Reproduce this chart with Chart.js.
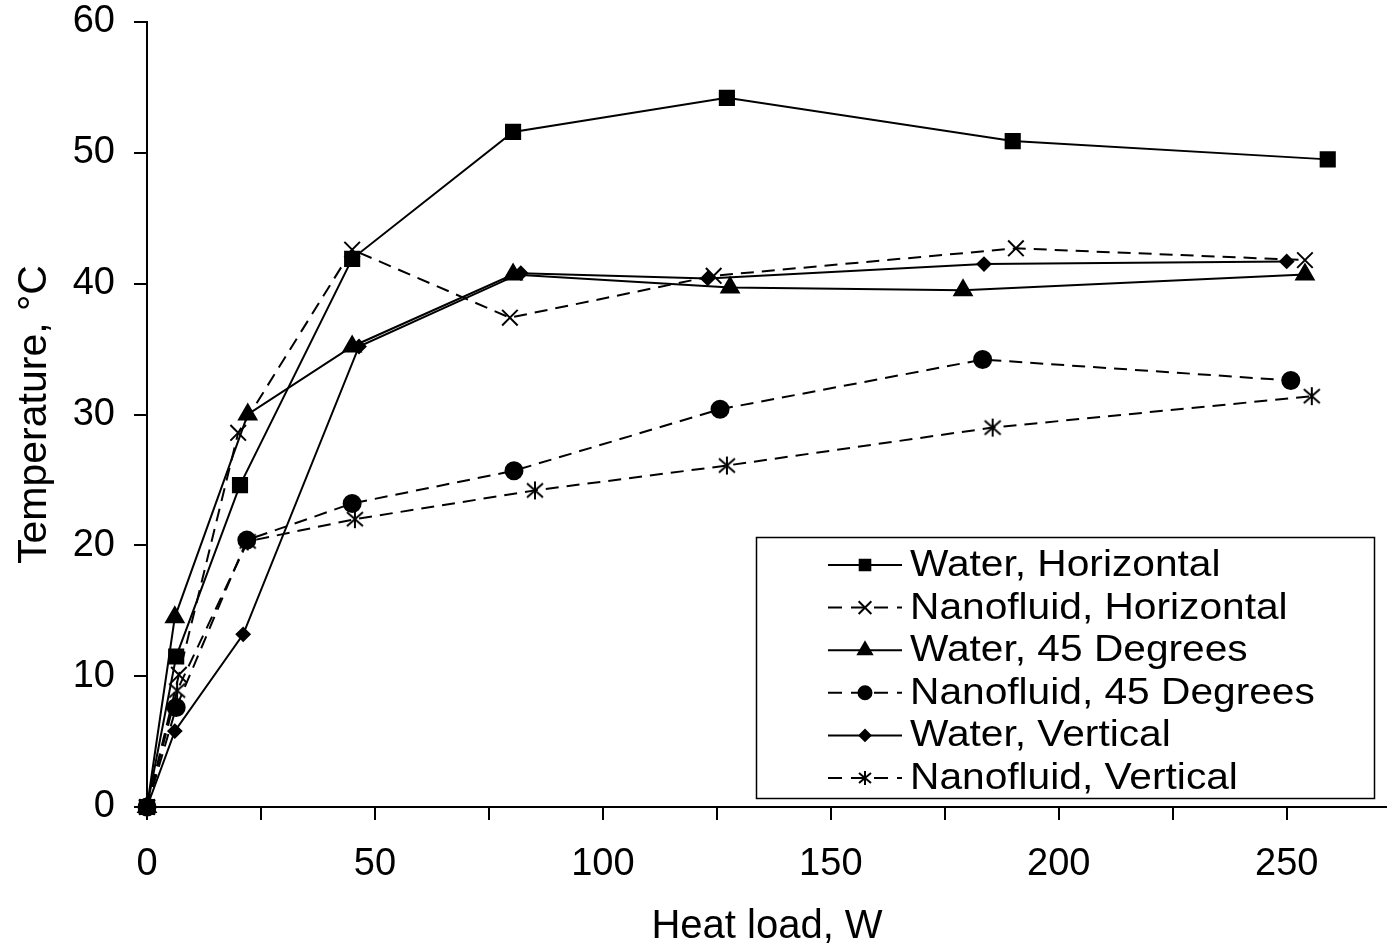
<!DOCTYPE html>
<html><head><meta charset="utf-8">
<script src="https://cdn.jsdelivr.net/npm/chart.js@4/dist/chart.umd.min.js"></script>
<style>html,body{margin:0;padding:0;background:#fff}#wrap{width:1387px;height:951px}</style>
</head><body><div id="wrap"><canvas id="c" width="1387" height="951"></canvas></div>
<script>
const seriesNames = ["Water, Horizontal","Nanofluid, Horizontal","Water, 45 Degrees","Nanofluid, 45 Degrees","Water, Vertical","Nanofluid, Vertical"];
const waterHorizX = [0, 6.4, 20.4, 45, 80.3, 127.2, 189.9, 259];
const waterHorizY = [0, 11.5, 24.6, 41.9, 51.6, 54.2, 50.9, 49.5];
const nanoHorizX = [0, 7, 20, 45, 79.6, 124.3, 190.6, 254];
const nanoHorizY = [0, 10.1, 28.6, 42.6, 37.4, 40.6, 42.7, 41.8];
const water45X = [0, 6.1, 22.1, 45, 80.3, 127.9, 179, 254];
const water45Y = [0, 14.5, 30.0, 35.2, 40.7, 39.7, 39.5, 40.7];
const nano45X = [0, 6.4, 21.9, 45, 80.5, 125.7, 183.3, 250.9];
const nano45Y = [0, 7.6, 20.4, 23.2, 25.7, 30.4, 34.2, 32.6];
const waterVertX = [0, 6.1, 21.1, 46.5, 82, 123, 183.6, 250];
const waterVertY = [0, 5.8, 13.2, 35.2, 40.8, 40.4, 41.5, 41.7];
const nanoVertX = [0, 6.6, 22.1, 45.6, 85.1, 127.2, 185.5, 255.5];
const nanoVertY = [0, 8.9, 20.3, 22.0, 24.2, 26.1, 29.0, 31.4];
const xTitle = "Heat load, W";
const yTitle = "Temperature, °C";

function pts(xs, ys){ return xs.map((x,i)=>({x:x,y:ys[i]})); }

// asterisk marker
function makeAst(n){
  const cv = document.createElement('canvas');
  cv.width = n; cv.height = n;
  const g = cv.getContext('2d');
  g.strokeStyle = '#000'; g.lineWidth = 2;
  const m = n/2;
  g.beginPath();
  g.moveTo(m,1); g.lineTo(m,n-1);
  g.moveTo(2,3); g.lineTo(n-2,n-3);
  g.moveTo(n-2,3); g.lineTo(2,n-3);
  g.stroke();
  return cv;
}
const ast = makeAst(20);
const astSmall = makeAst(16);

const DASH = [13,8];
const styles = [
  {pointStyle:'rect', radius:10, legR:7.5, dash:[]},
  {pointStyle:'crossRot', radius:11, legR:9, dash:DASH},
  {pointStyle:'triangle', radius:10, legR:8, dash:[]},
  {pointStyle:'circle', radius:8.5, legR:6.5, dash:DASH},
  {pointStyle:'rectRot', radius:6.5, legR:5.5, dash:[]},
  {pointStyle:ast, radius:10, legR:7, dash:DASH}
];
const dataArr = [pts(waterHorizX,waterHorizY), pts(nanoHorizX,nanoHorizY), pts(water45X,water45Y), pts(nano45X,nano45Y), pts(waterVertX,waterVertY), pts(nanoVertX,nanoVertY)];

const datasets = dataArr.map((d,i)=>({
  label: seriesNames[i],
  data: d,
  borderColor:'#000',
  backgroundColor:'#000',
  borderWidth:2,
  borderDash: styles[i].dash,
  pointStyle: styles[i].pointStyle,
  pointRadius: styles[i].radius,
  pointBorderWidth: 2,
  pointBackgroundColor:'#000',
  pointBorderColor:'#000',
  tension:0,
  clip:20
}));

const FONT = "'Liberation Sans', Arial, sans-serif";

const legendBox = {
  id:'legendBox',
  afterDraw(chart){
    const c = chart.ctx;
    c.save();
    const L=756, T=537, R=1374, B=798;
    c.fillStyle='#fff';
    c.fillRect(L,T,R-L,B-T);
    c.strokeStyle='#000'; c.lineWidth=1.5;
    c.strokeRect(L+0.5,T+0.5,R-L,B-T);
    const rowH = 42.6, y0 = 565;
    chart.data.datasets.forEach((ds,i)=>{
      const y = y0 + i*rowH;
      c.strokeStyle='#000'; c.lineWidth=2;
      c.setLineDash(ds.borderDash.length? [14,9]:[]);
      c.beginPath(); c.moveTo(828,y); c.lineTo(902,y); c.stroke();
      c.setLineDash([]);
      const st = ds.pointStyle;
      if (st===ast){ c.drawImage(astSmall, 865-8, y-8); }
      else {
        c.fillStyle='#000';
        Chart.helpers.drawPoint(c, {pointStyle:st, radius:styles[i].legR, borderWidth:2}, 865, y);
      }
      c.save();
      c.translate(910, y+1);
      c.scale(1.13, 1);
      c.font = "36px " + FONT;
      c.textBaseline='middle';
      c.textAlign='left';
      c.fillStyle='#000';
      c.fillText(ds.label, 0, 0);
      c.restore();
    });
    c.restore();
  }
};

new Chart(document.getElementById('c'), {
  type:'line',
  data:{datasets},
  options:{
    responsive:false,
    animation:false,
    layout:{autoPadding:false, padding:{left:0,right:0,top:22,bottom:0}},
    plugins:{legend:{display:false}, tooltip:{enabled:false}},
    scales:{
      x:{
        type:'linear', min:0, max:272,
        afterBuildTicks(s){ s.ticks = s.ticks.filter(t=>t.value%25===0); },
        afterFit(s){ s.height = 144; s.paddingLeft = 0; s.paddingRight = 0; },
        ticks:{stepSize:25, color:'#000', font:{family:FONT,size:38}, padding:22, maxRotation:0, autoSkip:false,
          callback:(v)=> v%50===0 ? String(v) : ''},
        grid:{display:true, drawOnChartArea:false, drawTicks:true, tickLength:13, color:'#000', lineWidth:2},
        border:{display:true, color:'#000', width:2},
        title:{display:true, text:xTitle, color:'#000', font:{family:FONT,size:40}, padding:{top:0,bottom:0}}
      },
      y:{
        type:'linear', min:0, max:60,
        afterFit(s){ s.width = 147; s.paddingTop = 0; s.paddingBottom = 0; },
        ticks:{stepSize:10, color:'#000', font:{family:FONT,size:38}, padding:19},
        grid:{display:true, drawOnChartArea:false, drawTicks:true, tickLength:13, color:'#000', lineWidth:2},
        border:{display:true, color:'#000', width:2},
        title:{display:true, text:yTitle, color:'#000', font:{family:FONT,size:41}, padding:{top:10,bottom:0}}
      }
    }
  },
  plugins:[legendBox]
});
</script>
</body></html>
